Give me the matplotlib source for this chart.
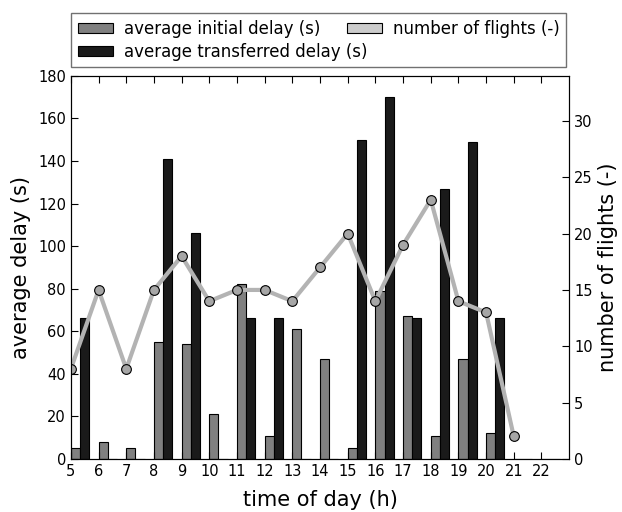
import numpy as np
import matplotlib.pyplot as plt
from matplotlib.patches import Patch

# Data
hours = [5, 6, 7, 8, 9, 10, 11, 12, 13, 14, 15, 16, 17, 18, 19, 20, 21, 22]
initial_delay = [5, 8, 5, 55, 54, 21, 82, 11, 61, 47, 5, 79, 67, 11, 47, 12, 0, 0]
transferred_delay = [66, 0, 0, 141, 106, 0, 66, 66, 0, 0, 150, 170, 66, 127, 149, 66, 0, 0]
flight_hours = [5, 6, 7, 8, 9, 10, 11, 12, 13, 14, 15, 16, 17, 18, 19, 20, 21]
n_flights = [8, 15, 8, 15, 18, 14, 15, 15, 14, 17, 20, 14, 19, 23, 14, 13, 2]

hours = np.array(hours)
width = 0.33

fig = plt.figure(figsize=(6.22, 5.12), dpi=100)
ax = fig.add_axes([0.114, 0.1035, 0.801, 0.7485])

ax.bar(hours, initial_delay, width, align='edge', color='0.5', edgecolor='black', linewidth=0.8)
ax.bar(hours + width, transferred_delay, width, align='edge', color='0.1', edgecolor='black', linewidth=0.8)

ax.set_xlim(5, 23)
ax.set_ylim(0, 180)
ax.set_xticks(hours)
ax.set_yticks(np.arange(0, 181, 20))
ax.set_xlabel('time of day (h)', fontsize=15, labelpad=8)
ax.set_ylabel('average delay (s)', fontsize=15, labelpad=5)
ax.tick_params(which='both', direction='in', top=True, labelsize=10.5, length=5)

# Number of flights on the secondary axis
ax2 = ax.twinx()
ax2.plot(flight_hours, n_flights, color='0.7', linewidth=3, marker='o',
         markersize=7, markerfacecolor='0.65', markeredgecolor='black', markeredgewidth=0.8)
ax2.set_ylim(0, 34)
ax2.set_yticks(np.arange(0, 31, 5))
ax2.set_ylabel('number of flights (-)', fontsize=15)
ax2.tick_params(direction='in', labelsize=10.5, length=5)

# Legend above the plot
handles = [Patch(facecolor='0.5', edgecolor='black', linewidth=0.8),
           Patch(facecolor='0.1', edgecolor='black', linewidth=0.8),
           Patch(facecolor='0.8', edgecolor='black', linewidth=0.8)]
labels = ['average initial delay (s)', 'average transferred delay (s)', 'number of flights (-)']
leg = ax.legend(handles, labels, loc='lower left', bbox_to_anchor=(0, 1.022), ncol=2,
                fontsize=12, fancybox=False, handlelength=2.1, handleheight=0.6,
                handletextpad=0.66, borderaxespad=0, columnspacing=-1.2, labelspacing=0.3)
leg.get_frame().set_edgecolor('0.3')

fig.savefig('out.png')
